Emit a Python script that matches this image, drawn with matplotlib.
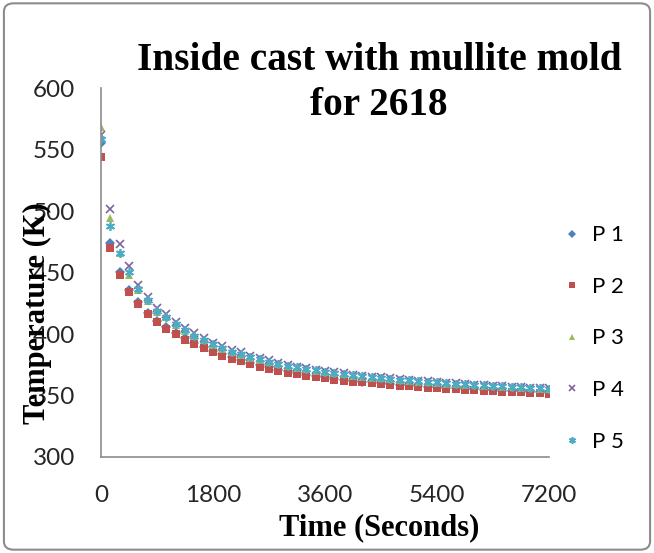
import numpy as np
import matplotlib
matplotlib.use("Agg")
import matplotlib.pyplot as plt
from matplotlib.patches import FancyBboxPatch

# ---- data ----
time_s = list(range(0, 7201, 150))
P1 = [555, 473.7, 450.2, 436, 426, 417.5, 411, 405.5, 401, 396.4,
      393, 389.7, 386.2, 383.6, 381.1, 378.8, 376.5, 374.5, 372.8, 371.1,
      369.6, 368.2, 366.9, 365.8, 364.8, 363.8, 362.9, 362.1, 361.4, 360.7,
      360, 359.4, 358.8, 358.2, 357.7, 357.2, 356.7, 356.2, 355.8, 355.4,
      355, 354.6, 354.2, 353.9, 353.6, 353.3, 353, 352.7, 352.4]
P2 = [544, 469.7, 448, 434, 424.5, 416, 409.5, 404, 399.7, 395,
      391.6, 388.4, 385, 382.4, 380, 377.7, 375.5, 373.5, 371.8, 370.2,
      368.7, 367.3, 366, 364.9, 363.9, 363, 362.1, 361.3, 360.6, 359.9,
      359.2, 358.6, 358, 357.4, 356.9, 356.4, 355.9, 355.4, 355, 354.6,
      354.2, 353.8, 353.4, 353.1, 352.8, 352.5, 352.2, 351.9, 351.6]
P3 = [568.5, 494.5, 465.6, 448, 436, 427, 418, 413.5, 407.5, 402.5,
      398.2, 395, 391, 388.2, 385.2, 383.2, 380.9, 379, 377.1, 375.4,
      373.8, 372.5, 371.2, 370, 369, 368, 367.1, 366.2, 365.4, 364.6,
      363.9, 363.2, 362.6, 362, 361.4, 360.8, 360.3, 359.7, 359.2, 358.7,
      358.2, 357.8, 357.4, 357, 356.6, 356.2, 355.8, 355.5, 355.2]
P4 = [562, 501.6, 473, 455, 440, 430, 421, 416, 410, 405,
      400.5, 397, 393, 390, 387, 385, 382.5, 380.5, 378.5, 376.7,
      375, 373.6, 372.3, 371, 370, 369, 368, 367, 366.2, 365.4,
      364.7, 364, 363.3, 362.7, 362.1, 361.5, 361, 360.4, 359.9, 359.4,
      358.9, 358.5, 358.1, 357.7, 357.3, 356.9, 356.5, 356.2, 355.9]
P5 = [558.5, 488, 465.6, 450.5, 436.5, 427.5, 418.5, 414, 408, 403,
      398.8, 395.5, 391.6, 388.8, 385.6, 383.7, 381.4, 379.4, 377.5, 375.8,
      374.2, 372.9, 371.6, 370.4, 369.4, 368.4, 367.5, 366.6, 365.8, 365,
      364.3, 363.6, 363, 362.4, 361.8, 361.2, 360.7, 360.1, 359.6, 359.1,
      358.6, 358.2, 357.8, 357.4, 357, 356.6, 356.2, 355.9, 355.6]
series_names = ["P 1", "P 2", "P 3", "P 4", "P 5"]
x_ticks = [0, 1800, 3600, 5400, 7200]
y_ticks = [300, 350, 400, 450, 500, 550, 600]
title_lines = ["Inside cast with mullite mold", "for 2618"]

colors = ["#4F81BD", "#C0504D", "#9BBB59", "#8064A2", "#4BACC6"]
markers = ["D", "s", "^", "x", (6, 2, 0)]
msizes = [5, 5.5, 6, 5.5, 6.5]

fig = plt.figure(figsize=(6.54, 5.53), dpi=100)
border = FancyBboxPatch((0.006, 0.006), 0.988, 0.988, boxstyle="round,pad=0,rounding_size=0.015",
                        transform=fig.transFigure, fill=False, edgecolor="#8C8C8C", linewidth=1.5)
fig.patches.append(border)

ax = fig.add_axes([0.1544, 0.1736, 0.685, 0.667])
data = [P1, P2, P3, P4, P5]
handles = []
for vals, name, c, m, ms in zip(data, series_names, colors, markers, msizes):
    kw = dict(markeredgewidth=1.2) if m == "x" or isinstance(m, tuple) else dict(markeredgewidth=0)
    h, = ax.plot(time_s, vals, linestyle="none", marker=m, color=c, markersize=ms,
                 label=name, **kw)
    handles.append(h)

ax.set_xlim(0, 7200)
ax.set_ylim(300, 600)
ax.set_xticks(x_ticks)
ax.set_yticks(y_ticks)
tickfont = dict(family="Lato", size=17.5)
ax.set_xticklabels([str(v) for v in x_ticks], fontdict=tickfont, color="#262626")
ax.set_yticklabels([str(v) for v in y_ticks], fontdict=tickfont, color="#262626")
ax.tick_params(axis="x", length=0, pad=20)
ax.tick_params(axis="y", length=0, pad=18.5)
for s in ["top", "right"]:
    ax.spines[s].set_visible(False)
for s in ["left", "bottom"]:
    ax.spines[s].set_color("#8C8C8C")
    ax.spines[s].set_linewidth(1.2)

fig.text(379 / 654, 1 - 528 / 553, "Time (Seconds)", family="Liberation Serif", weight="bold",
         size=22, ha="center", va="center")
fig.text(0.057, 1 - 313 / 553, "Temperature (K)", family="Liberation Serif", weight="bold", size=22,
         rotation=90, ha="center", va="center")
fig.text(379 / 654, 1 - 70 / 553, title_lines[0], family="Liberation Serif",
         weight="bold", size=28.3, ha="center", va="baseline")
fig.text(379 / 654, 1 - 115 / 553, title_lines[1], family="Liberation Serif",
         weight="bold", size=28.3, ha="center", va="baseline")

leg = fig.legend(handles=handles, loc="center left", bbox_to_anchor=(0.834, 0.388),
                 frameon=False, prop=dict(family="Lato", size=16), labelspacing=1.42,
                 handlelength=0.6, handletextpad=0.6, markerscale=0.75)

fig.savefig("out.png", dpi=100)
